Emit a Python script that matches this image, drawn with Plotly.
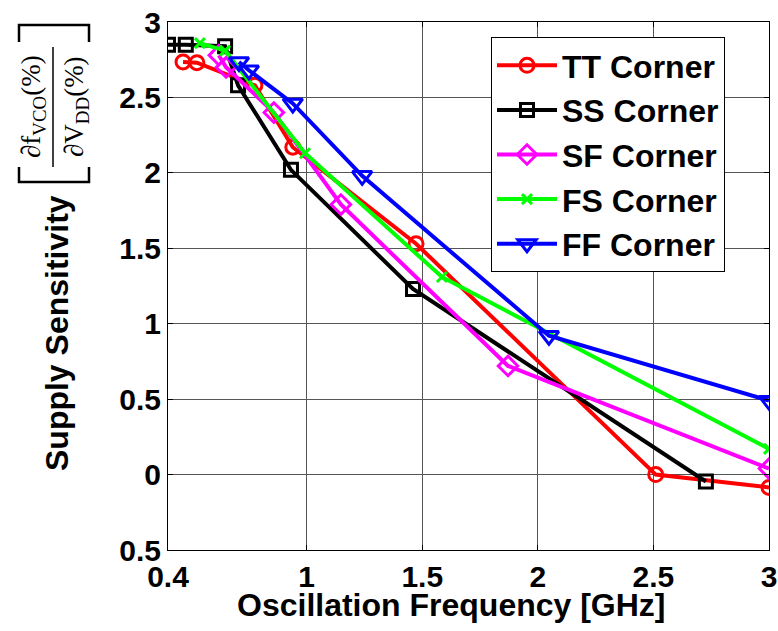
import plotly.graph_objects as go

# ---- data ----
tt_x = [0.465, 0.525, 0.776, 0.94, 1.473, 2.51, 3.0]
tt_y = [2.735, 2.73, 2.58, 2.17, 1.53, 0.0, -0.085]

ss_x = [0.40, 0.477, 0.647, 0.703, 0.932, 1.46, 2.727]
ss_y = [2.85, 2.85, 2.84, 2.58, 2.02, 1.23, -0.046]

sf_x = [0.62, 0.651, 0.858, 1.148, 1.871, 3.0]
sf_y = [2.78, 2.70, 2.40, 1.79, 0.72, 0.04]

fs_x = [0.538, 0.647, 0.993, 1.585, 3.0]
fs_y = [2.86, 2.81, 2.13, 1.31, 0.17]

ff_x = [0.707, 0.75, 0.94, 1.24, 2.048, 3.0]
ff_y = [2.735, 2.68, 2.46, 1.98, 0.92, 0.49]

x_ticks = [0.4, 1, 1.5, 2, 2.5, 3]
x_ticktext = ["0.4", "1", "1.5", "2", "2.5", "3"]
y_ticks = [-0.5, 0, 0.5, 1, 1.5, 2, 2.5, 3]
y_ticktext = ["0.5", "0", "0.5", "1", "1.5", "2", "2.5", "3"]

# ---- layout geometry (pixels) ----
W, H = 778, 631
L, R, T, B = 168, 9, 22, 81
pw, ph = W - L - R, H - T - B


def px(x):
    return (x - L) / pw


def py(y):
    return (H - B - y) / ph


FONT = "Arial, Liberation Sans, sans-serif"
SERIF = "Liberation Serif, DejaVu Serif, serif"

fig = go.Figure()
series = [
    ("TT Corner", tt_x, tt_y, "#FF0000", "circle-open", 14),
    ("SS Corner", ss_x, ss_y, "#000000", "square-open", 13),
    ("SF Corner", sf_x, sf_y, "#FF00FF", "diamond-open", 15),
    ("FS Corner", fs_x, fs_y, "#00FF00", "x-thin-open", 10),
    ("FF Corner", ff_x, ff_y, "#0000FF", "triangle-down-open", 17),
]
for name, xs, ys, col, sym, size in series:
    fig.add_trace(go.Scatter(
        x=xs, y=ys, name=name, mode="lines+markers",
        line=dict(color=col, width=4),
        marker=dict(symbol=sym, size=size, color=col,
                    line=dict(color=col, width=3)),
    ))

axis_common = dict(
    showline=True, linecolor="black", linewidth=1, mirror="ticks",
    ticks="inside", ticklen=5, tickcolor="black",
    showgrid=True, gridcolor="#555555", gridwidth=1,
    zeroline=False,
    tickfont=dict(family=FONT, size=30, color="black", weight="bold"),
)

fig.update_xaxes(range=[0.4, 3], tickvals=x_ticks, ticktext=x_ticktext,
                 automargin=False, **axis_common)
fig.update_yaxes(range=[-0.5, 3], tickvals=y_ticks, ticktext=y_ticktext,
                 automargin=False, **axis_common)

annotations = [
    dict(text="<b>Oscillation Frequency [GHz]</b>", x=px(451), y=py(605),
         xref="paper", yref="paper", showarrow=False, xanchor="center", yanchor="middle",
         font=dict(family=FONT, size=32, color="black")),
    dict(text="<b>Supply Sensitivity</b>", x=px(57), y=py(333), textangle=-90,
         xref="paper", yref="paper", showarrow=False, xanchor="center", yanchor="middle",
         font=dict(family=FONT, size=32, color="black")),
    dict(text="∂f<sub>VCO</sub>(%)", x=px(33), y=py(107), textangle=-90,
         xref="paper", yref="paper", showarrow=False, xanchor="center", yanchor="middle",
         font=dict(family=SERIF, size=27, color="black")),
    dict(text="∂V<sub>DD</sub>(%)", x=px(76), y=py(107), textangle=-90,
         xref="paper", yref="paper", showarrow=False, xanchor="center", yanchor="middle",
         font=dict(family=SERIF, size=27, color="black")),
]

shapes = [
    dict(type="line", xref="paper", yref="paper", x0=px(53), x1=px(53), y0=py(47), y1=py(167),
         line=dict(color="black", width=1.5)),
    dict(type="path", xref="paper", yref="paper",
         path=f"M {px(19)},{py(42)} L {px(19)},{py(25)} L {px(89)},{py(25)} L {px(89)},{py(42)}",
         line=dict(color="black", width=2.5)),
    dict(type="path", xref="paper", yref="paper",
         path=f"M {px(19)},{py(167)} L {px(19)},{py(182)} L {px(89)},{py(182)} L {px(89)},{py(167)}",
         line=dict(color="black", width=2.5)),
]

fig.update_layout(
    width=W, height=H,
    margin=dict(l=L, r=R, t=T, b=B, autoexpand=False),
    paper_bgcolor="white", plot_bgcolor="white",
    showlegend=True,
    legend=dict(
        x=px(491), y=py(37), xanchor="left", yanchor="top",
        bgcolor="white", bordercolor="black", borderwidth=1,
        font=dict(family=FONT, size=32, color="black", weight="bold"),
        itemwidth=60, tracegroupgap=0,
    ),
    annotations=annotations,
    shapes=shapes,
)

fig.write_html("out.html", config={"displayModeBar": False},
               post_script="document.body.style.margin='0';document.body.style.overflow='hidden';")
